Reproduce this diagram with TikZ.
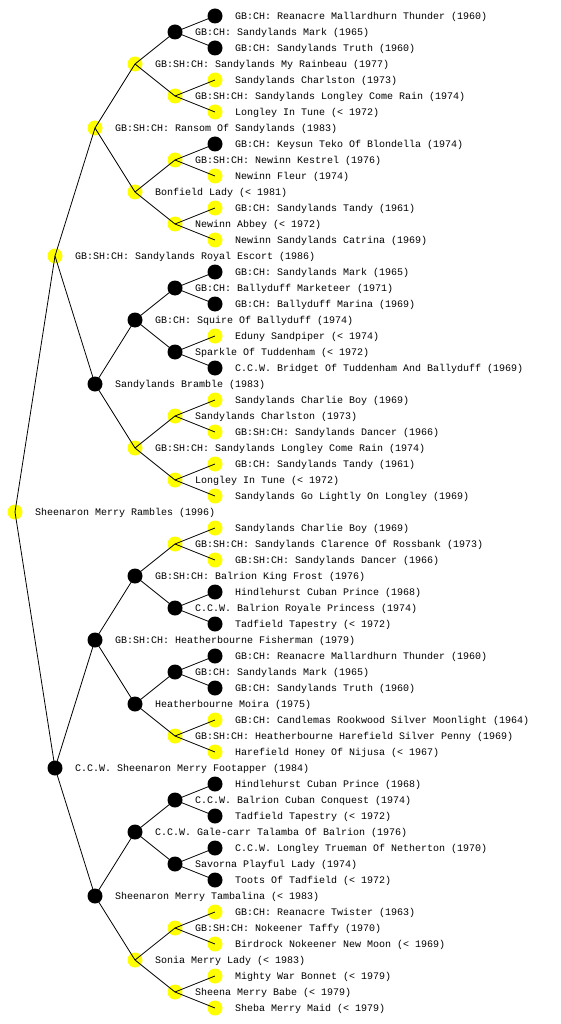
\documentclass[tikz,border=0pt]{standalone}
\usepackage{fontspec}
\setmonofont{Liberation Mono}
\definecolor{pedyellow}{HTML}{FFFF00}

\begin{document}
\begin{tikzpicture}[
  x=1pt,
  y=-1pt,
  every node/.style={font=\ttfamily\fontsize{10}{12}\selectfont},
  dog/.style={circle, inner sep=0pt, minimum size=15pt},
  yel/.style={dog, fill=pedyellow},
  blk/.style={dog, fill=black},
  link/.style={black, line width=0.8pt},
  dogname/.style={anchor=base west, inner sep=0pt}
]
  \useasboundingbox (0,0) rectangle (560,1024);

  % ---- generation 0 ----
  \node[yel] (p1) at (15,512) {};
  \node[dogname] (t1) at (35,515.5) {Sheenaron Merry Rambles (1996)};

  % ---- generation 1 ----
  \foreach \k/\s/\t [evaluate=\k as \i using int(2+\k)] in {
      0/yel/{GB:SH:CH: Sandylands Royal Escort (1986)},
      1/blk/{C.C.W. Sheenaron Merry Footapper (1984)}}{
    \node[\s] (p\i) at (55,256+512*\k) {};
    \node[dogname] (t\i) at (75,259.5+512*\k) {\t};
  }

  % ---- generation 2 ----
  \foreach \k/\s/\t [evaluate=\k as \i using int(4+\k)] in {
      0/yel/{GB:SH:CH: Ransom Of Sandylands (1983)},
      1/blk/{Sandylands Bramble (1983)},
      2/blk/{GB:SH:CH: Heatherbourne Fisherman (1979)},
      3/blk/{Sheenaron Merry Tambalina (< 1983)}}{
    \node[\s] (p\i) at (95,128+256*\k) {};
    \node[dogname] (t\i) at (115,131.5+256*\k) {\t};
  }

  % ---- generation 3 ----
  \foreach \k/\s/\t [evaluate=\k as \i using int(8+\k)] in {
      0/yel/{GB:SH:CH: Sandylands My Rainbeau (1977)},
      1/yel/{Bonfield Lady (< 1981)},
      2/blk/{GB:CH: Squire Of Ballyduff (1974)},
      3/yel/{GB:SH:CH: Sandylands Longley Come Rain (1974)},
      4/blk/{GB:SH:CH: Balrion King Frost (1976)},
      5/blk/{Heatherbourne Moira (1975)},
      6/blk/{C.C.W. Gale-carr Talamba Of Balrion (1976)},
      7/yel/{Sonia Merry Lady (< 1983)}}{
    \node[\s] (p\i) at (135,64+128*\k) {};
    \node[dogname] (t\i) at (155,67.5+128*\k) {\t};
  }

  % ---- generation 4 ----
  \foreach \k/\s/\t [evaluate=\k as \i using int(16+\k)] in {
      0/blk/{GB:CH: Sandylands Mark (1965)},
      1/yel/{GB:SH:CH: Sandylands Longley Come Rain (1974)},
      2/yel/{GB:SH:CH: Newinn Kestrel (1976)},
      3/yel/{Newinn Abbey (< 1972)},
      4/blk/{GB:CH: Ballyduff Marketeer (1971)},
      5/blk/{Sparkle Of Tuddenham (< 1972)},
      6/yel/{Sandylands Charlston (1973)},
      7/yel/{Longley In Tune (< 1972)},
      8/yel/{GB:SH:CH: Sandylands Clarence Of Rossbank (1973)},
      9/blk/{C.C.W. Balrion Royale Princess (1974)},
      10/blk/{GB:CH: Sandylands Mark (1965)},
      11/yel/{GB:SH:CH: Heatherbourne Harefield Silver Penny (1969)},
      12/blk/{C.C.W. Balrion Cuban Conquest (1974)},
      13/blk/{Savorna Playful Lady (1974)},
      14/yel/{GB:SH:CH: Nokeener Taffy (1970)},
      15/yel/{Sheena Merry Babe (< 1979)}}{
    \node[\s] (p\i) at (175,32+64*\k) {};
    \node[dogname] (t\i) at (195,35.5+64*\k) {\t};
  }

  % ---- generation 5 ----
  \foreach \k/\s/\t [evaluate=\k as \i using int(32+\k)] in {
      0/blk/{GB:CH: Reanacre Mallardhurn Thunder (1960)},
      1/blk/{GB:CH: Sandylands Truth (1960)},
      2/yel/{Sandylands Charlston (1973)},
      3/yel/{Longley In Tune (< 1972)},
      4/blk/{GB:CH: Keysun Teko Of Blondella (1974)},
      5/yel/{Newinn Fleur (1974)},
      6/yel/{GB:CH: Sandylands Tandy (1961)},
      7/yel/{Newinn Sandylands Catrina (1969)},
      8/blk/{GB:CH: Sandylands Mark (1965)},
      9/blk/{GB:CH: Ballyduff Marina (1969)},
      10/yel/{Eduny Sandpiper (< 1974)},
      11/blk/{C.C.W. Bridget Of Tuddenham And Ballyduff (1969)},
      12/yel/{Sandylands Charlie Boy (1969)},
      13/yel/{GB:SH:CH: Sandylands Dancer (1966)},
      14/yel/{GB:CH: Sandylands Tandy (1961)},
      15/yel/{Sandylands Go Lightly On Longley (1969)},
      16/yel/{Sandylands Charlie Boy (1969)},
      17/yel/{GB:SH:CH: Sandylands Dancer (1966)},
      18/blk/{Hindlehurst Cuban Prince (1968)},
      19/blk/{Tadfield Tapestry (< 1972)},
      20/blk/{GB:CH: Reanacre Mallardhurn Thunder (1960)},
      21/blk/{GB:CH: Sandylands Truth (1960)},
      22/yel/{GB:CH: Candlemas Rookwood Silver Moonlight (1964)},
      23/yel/{Harefield Honey Of Nijusa (< 1967)},
      24/blk/{Hindlehurst Cuban Prince (1968)},
      25/blk/{Tadfield Tapestry (< 1972)},
      26/blk/{C.C.W. Longley Trueman Of Netherton (1970)},
      27/blk/{Toots Of Tadfield (< 1972)},
      28/yel/{GB:CH: Reanacre Twister (1963)},
      29/yel/{Birdrock Nokeener New Moon (< 1969)},
      30/yel/{Mighty War Bonnet (< 1979)},
      31/yel/{Sheba Merry Maid (< 1979)}}{
    \node[\s] (p\i) at (215,16+32*\k) {};
    \node[dogname] (t\i) at (235,19.5+32*\k) {\t};
  }

  % ---- links from each dog to sire and dam (on top of the dots) ----
  \foreach \i [evaluate=\i as \a using int(2*\i),
               evaluate=\i as \b using int(2*\i+1)] in {1,...,31}{
    \draw[link] (p\i.center) -- (p\a.center);
    \draw[link] (p\i.center) -- (p\b.center);
  }
\end{tikzpicture}
\end{document}
